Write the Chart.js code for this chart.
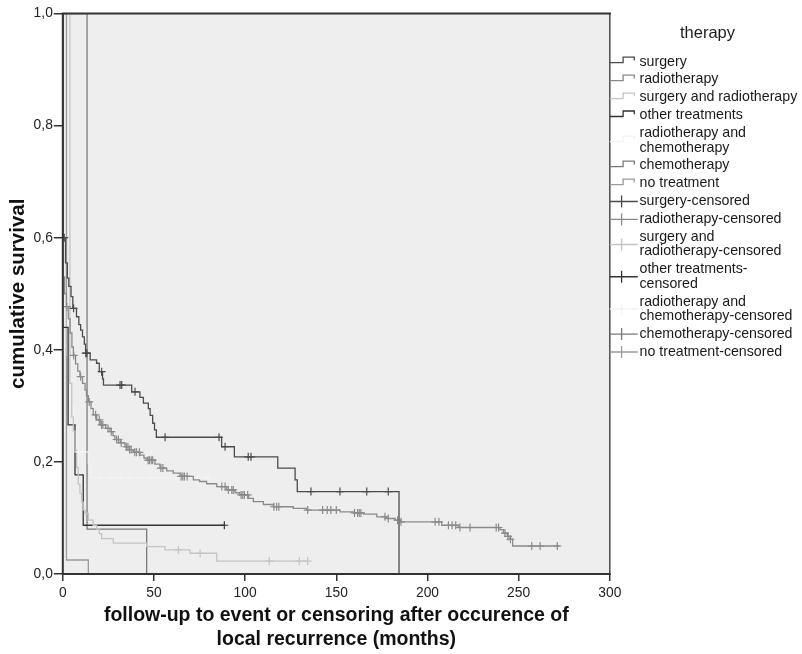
<!DOCTYPE html>
<html>
<head>
<meta charset="utf-8">
<title>Cumulative survival by therapy</title>
<script src="https://cdn.jsdelivr.net/npm/chart.js@4.4.1/dist/chart.umd.min.js"></script>
<style>
  html, body { margin: 0; padding: 0; background: #ffffff; }
  canvas { display: block; }
</style>
</head>
<body>
<canvas id="km" width="802" height="654"></canvas>
<script>
// Kaplan-Meier steps per therapy group: [months, cumulative survival after the step]
const surgeryCurve = [[0,1],[0,0.60],[1.5,0.555],[2.5,0.528],[3.3,0.513],[4.5,0.495],[5.5,0.474],
  [7.5,0.459],[8.8,0.445],[9.8,0.435],[10.8,0.423],[11.8,0.41],[12.5,0.394],[15,0.382],[18.5,0.376],
  [20,0.361],[21.8,0.348],[22.3,0.337],[37.8,0.325],[42.3,0.315],[44.2,0.305],[46.9,0.295],[47.9,0.283],
  [49.3,0.269],[50.3,0.257],[51.3,0.244],[87.1,0.227],[94.1,0.209],[117.9,0.189],[127.4,0.168],
  [128.6,0.147],[184.4,0]];
const radiotherapyCurve = [[0,1],[0,0.53],[1,0.50],[2,0.477],[3,0.455],[4,0.43],[5,0.405],[5.8,0.39],
  [7,0.375],[8.2,0.362],[9.4,0.352],[10.8,0.34],[12.2,0.328],[13,0.318],[14,0.307],[15.5,0.295],
  [16.7,0.284],[18.6,0.275],[20.5,0.266],[23.5,0.26],[25.9,0.254],[27.5,0.247],[28.6,0.24],[31.5,0.234],
  [34.1,0.227],[36.5,0.222],[38.7,0.217],[42.3,0.212],[44.5,0.207],[46.5,0.203],[50.5,0.196],[53.3,0.189],
  [57,0.184],[60.6,0.18],[64.3,0.174],[71.6,0.168],[75,0.165],[78.9,0.161],[84.4,0.156],[89.9,0.15],
  [94.5,0.145],[97,0.141],[102,0.135],[104.5,0.129],[110,0.124],[115.5,0.12],[126.4,0.117],[133.8,0.114],
  [152,0.111],[159.3,0.109],[165,0.107],[172.2,0.102],[177.6,0.099],[182.2,0.096],[185,0.093],
  [207.8,0.087],[216.9,0.083],[239.8,0.079],[241.6,0.073],[243.8,0.067],[245.3,0.062],[246.7,0.05],
  [272.5,0.05]];
const surgeryRadioCurve = [[0,1],[3.9,0.34],[4.9,0.28],[5.8,0.255],[6.7,0.221],[7.6,0.19],[8.5,0.16],
  [9.4,0.144],[10.3,0.128],[11.2,0.114],[12.2,0.108],[14,0.096],[16.7,0.087],[18.6,0.08],[20,0.072],
  [21.3,0.063],[27.7,0.055],[46,0.049],[56,0.043],[69.8,0.037],[84.4,0.023],[134.3,0.023]];
const otherCurve = [[0,1],[0,0.44],[2.9,0.266],[6.7,0.177],[11.2,0.087],[88.6,0.087]];
const radioChemoCurve = [[0,1],[0,0.48],[2.5,0.39],[4.5,0.30],[6,0.26],[7.5,0.218],[14,0.197],
  [15.5,0.172],[79.8,0.172]];
const chemoCurve = [[0,1],[13.3,0.08],[46,0]];
const noTreatmentCurve = [[0,1],[2,0.025],[14,0]];

// Censoring times (months) per therapy group
const surgeryCensored = [0.8,5.9,12.6,13.2,21.3,31.4,32.3,39.6,56.1,85.7,89,101.7,103.2,136.1,152,166.7,178.5];
const radiotherapyCensored = [2.2,6,9.8,14.5,18,20,21.3,22,24.8,26.6,29.5,30.5,32,34.8,35.7,36.6,37.5,
  39.5,40.4,42,46.8,47.5,48.5,49.3,53.8,54.9,64.9,65.8,66.7,68.2,87.2,89,90.8,92.7,93.5,97.8,98.7,99.6,
  101.4,115.8,117.3,118.5,134.3,142.5,145,147,150,160,161.7,162.6,163.5,176.7,178.5,183.6,185.5,204.2,
  206.3,211.5,213.5,215.5,217.8,223.3,237.7,239,242.5,244.2,245.5,257.2,261.8,271.2];
const surgeryRadioCensored = [63.4,75.3,113.2,129.7,134.3];
const otherCensored = [88.6];
const radioChemoCensored = [8.5,20.4,25.9,31.4,36.9,47.8,79.8];
const chemoCensored = [];
const noTreatmentCensored = [];

// Legend and axis texts
const therapyLabels = [['surgery'],['radiotherapy'],['surgery and radiotherapy'],['other treatments'],
  ['radiotherapy and','chemotherapy'],['chemotherapy'],['no treatment']];
const censoredLabels = [['surgery-censored'],['radiotherapy-censored'],['surgery and','radiotherapy-censored'],
  ['other treatments-','censored'],['radiotherapy and','chemotherapy-censored'],['chemotherapy-censored'],
  ['no treatment-censored']];
const legendTitle = 'therapy';
const xTitle = ['follow-up to event or censoring after occurence of', 'local recurrence (months)'];
const yTitle = 'cumulative survival';
const xTickStep = 50;
const yTickStep = 0.2;

const FONT = '"Liberation Sans", Arial, Helvetica, sans-serif';
const groupColors = ['#4b4b4b','#8a8a8a','#c4c4c4','#333333','#f3f3f3','#7a7a7a','#9b9b9b'];

const curves = [surgeryCurve, radiotherapyCurve, surgeryRadioCurve, otherCurve, radioChemoCurve, chemoCurve, noTreatmentCurve];
const censored = [surgeryCensored, radiotherapyCensored, surgeryRadioCensored, otherCensored, radioChemoCensored, chemoCensored, noTreatmentCensored];

// Survival level of a step curve at time t (value of the last step at or before t)
function survivalAt(curve, t) {
  let s = curve[0][1];
  for (const [ti, si] of curve) {
    if (ti <= t) s = si; else break;
  }
  return s;
}

const datasets = [];
curves.forEach((curve, i) => {
  datasets.push({
    label: therapyLabels[i].join(' '),
    data: curve.map(([t, s]) => ({ x: t, y: s })),
    borderColor: groupColors[i],
    backgroundColor: groupColors[i],
    borderWidth: 1.3,
    stepped: 'before',
    pointRadius: 0,
    fill: false,
    order: 2
  });
});
censored.forEach((times, i) => {
  datasets.push({
    label: censoredLabels[i].join(' '),
    data: times.map(t => ({ x: t, y: survivalAt(curves[i], t) })),
    showLine: false,
    borderColor: groupColors[i],
    backgroundColor: groupColors[i],
    pointStyle: 'cross',
    pointRadius: 4,
    pointBorderWidth: 1.2,
    order: 1
  });
});

// Grey plot panel and its frame
const plotFrame = {
  id: 'plotFrame',
  beforeDraw(chart) {
    const { ctx, chartArea: a } = chart;
    ctx.save();
    ctx.fillStyle = '#eeeeee';
    ctx.fillRect(a.left, a.top, a.right - a.left, a.bottom - a.top);
    ctx.restore();
  },
  afterDatasetsDraw(chart) {
    const { ctx, chartArea: a } = chart;
    ctx.save();
    ctx.lineCap = 'square';
    ctx.strokeStyle = '#555555';
    ctx.lineWidth = 1.6;
    ctx.beginPath();
    ctx.moveTo(a.right, a.top);
    ctx.lineTo(a.right, a.bottom);
    ctx.stroke();
    ctx.strokeStyle = '#333333';
    ctx.lineWidth = 2;
    ctx.beginPath();
    ctx.moveTo(a.right, a.top);
    ctx.lineTo(a.left, a.top);
    ctx.lineTo(a.left, a.bottom);
    ctx.lineTo(a.right, a.bottom);
    ctx.stroke();
    ctx.restore();
  }
};

// Legend at the right of the plot: step glyphs for groups, crosses for censored cases
const therapyLegend = {
  id: 'therapyLegend',
  afterDraw(chart) {
    const { ctx, chartArea: a } = chart;
    const x0 = a.right;
    const textX = x0 + 29.7;
    const pitch = 17.93, gap = 14.3;
    ctx.save();
    ctx.fillStyle = '#1a1a1a';
    ctx.textAlign = 'center';
    ctx.textBaseline = 'alphabetic';
    ctx.font = '16.5px ' + FONT;
    ctx.fillText(legendTitle, 707.5, 37.8);
    ctx.textAlign = 'left';
    ctx.font = '14.2px ' + FONT;
    const entries = therapyLabels.map((l, i) => ({ lines: l, ds: chart.data.datasets[i], censor: false }))
      .concat(censoredLabels.map((l, i) => ({ lines: l, ds: chart.data.datasets[i + 7], censor: true })));
    let y = 61.7;
    entries.forEach(e => {
      const mid = y + (e.lines.length - 1) * gap / 2;
      ctx.strokeStyle = e.ds.borderColor;
      ctx.lineWidth = 1.3;
      ctx.beginPath();
      if (!e.censor) {
        ctx.moveTo(x0, mid + 1);
        ctx.lineTo(x0 + 13.3, mid + 1);
        ctx.lineTo(x0 + 13.3, mid - 4.5);
        ctx.lineTo(x0 + 24.5, mid - 4.5);
        ctx.lineTo(x0 + 24.5, mid - 1.2);
      } else {
        ctx.moveTo(x0, mid);
        ctx.lineTo(x0 + 28, mid);
        ctx.moveTo(x0 + 11.8, mid - 6);
        ctx.lineTo(x0 + 11.8, mid + 6);
      }
      ctx.stroke();
      e.lines.forEach((t, k) => ctx.fillText(t, textX, y + k * gap + 3.8));
      y += pitch + (e.lines.length - 1) * gap;
    });
    ctx.restore();
  }
};

new Chart(document.getElementById('km'), {
  type: 'line',
  data: { datasets },
  options: {
    responsive: false,
    animation: false,
    devicePixelRatio: 1,
    layout: { padding: { left: 0, top: 13.5, right: 192.2, bottom: 0 } },
    plugins: { legend: { display: false }, tooltip: { enabled: false } },
    scales: {
      x: {
        type: 'linear',
        min: 0,
        max: 300,
        afterFit(scale) { scale.height = 80; },
        ticks: { stepSize: xTickStep, color: '#222222', padding: 4, maxRotation: 0,
                 font: { family: FONT, size: 13.8 } },
        grid: { drawOnChartArea: false, drawTicks: true, tickLength: 7, color: '#333333', lineWidth: 1.5 },
        border: { display: false },
        title: { display: true, text: xTitle, color: '#111111',
                 font: { family: FONT, size: 19.5, weight: 'bold', lineHeight: 1.195 },
                 padding: { top: 0, bottom: 3 } }
      },
      y: {
        type: 'linear',
        min: 0,
        max: 1,
        afterFit(scale) { scale.width = 62.8; },
        ticks: { stepSize: yTickStep, color: '#222222', padding: 1,
                 font: { family: FONT, size: 13.8 },
                 callback: v => v.toFixed(1).replace('.', ',') },
        grid: { drawOnChartArea: false, drawTicks: true, tickLength: 9, color: '#333333', lineWidth: 1.5 },
        border: { display: false },
        title: { display: true, text: yTitle, color: '#111111',
                 font: { family: FONT, size: 20.5, weight: 'bold', lineHeight: 1.2 },
                 padding: { top: 6, bottom: 0 } }
      }
    }
  },
  plugins: [plotFrame, therapyLegend]
});
</script>
</body>
</html>
